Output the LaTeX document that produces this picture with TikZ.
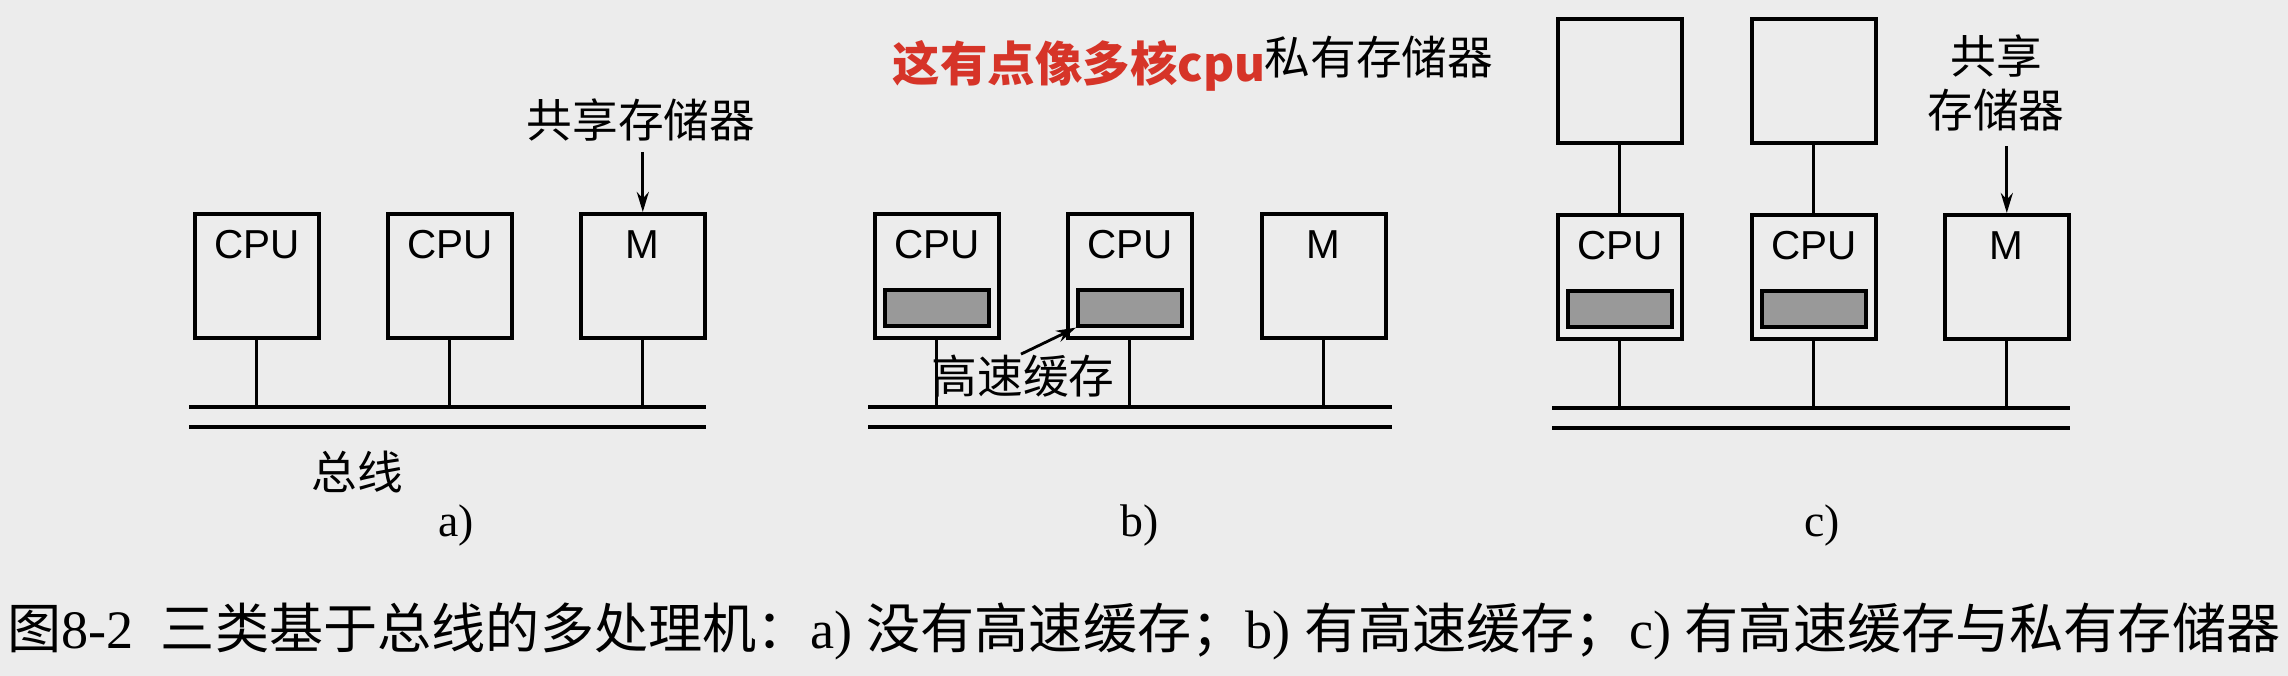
\documentclass[tikz,border=0pt]{standalone}
\usepackage{fontspec}
\setmainfont{Liberation Serif}
\newfontfamily\cjk{Noto Sans CJK SC}
\newfontfamily\lsans{Liberation Sans}
\usetikzlibrary{arrows.meta}
\definecolor{ink}{RGB}{214,52,40}
\definecolor{paper}{RGB}{236,236,236}
\begin{document}
\begin{tikzpicture}[x=0.01cm,y=-0.01cm,
  box/.style={draw,line width=1pt,minimum width=1.24cm,minimum height=1.24cm,inner sep=0,anchor=north west},
  cache/.style={draw,line width=1pt,fill=black!40,minimum width=1.04cm,minimum height=0.36cm,inner sep=0,anchor=south},
  lbl/.style={font=\lsans\fontsize{11.5}{12}\selectfont,inner sep=0},
  zh/.style={font=\cjk\fontsize{13}{15.6}\selectfont,inner sep=0,align=center},
  sub/.style={font=\fontsize{13}{16}\selectfont,inner sep=0},
  link/.style={line width=0.9pt},
  busl/.style={line width=1.3pt},
  arr/.style={-{Stealth[length=0.2cm,width=0.12cm]},line width=0.8pt}
]
\fill[paper] (0,0) rectangle (2288,676);
\useasboundingbox (0,0) rectangle (2288,676);

% ---------- panel a ----------
\node[box] (a1) at (193,212) {};
\node[box] (a2) at (386,212) {};
\node[box] (am) at (579,212) {};
\node[lbl] (a1t) at ([yshift=-0.33cm]a1.north) {CPU};
\node[lbl] (a2t) at ([yshift=-0.33cm]a2.north) {CPU};
\node[lbl] (amt) at ([yshift=-0.33cm]am.north) {M};
\coordinate (abusL) at (189,407);
\coordinate (abusR) at (706,407);
\coordinate (abusL2) at (189,427);
\coordinate (abusR2) at (706,427);
\draw[busl] (abusL) -- (abusR);
\draw[busl] (abusL2) -- (abusR2);
\draw[link] (a1.south) -- (a1.south |- abusL);
\draw[link] (a2.south) -- (a2.south |- abusL);
\draw[link] (am.south) -- (am.south |- abusL);
\node[zh] (ashm) at (641,120) {共享存储器};
\draw[arr] ([yshift=-0.1cm]ashm.south -| am.north) -- (am.north);
\node[zh] (abus) at (357,472) {总线};
\node[sub] (alab) at (456,526) {a)};

% ---------- panel b ----------
\node[box] (b1) at (873,212) {};
\node[box] (b2) at (1066,212) {};
\node[box] (bm) at (1260,212) {};
\node[lbl] (b1t) at ([yshift=-0.33cm]b1.north) {CPU};
\node[lbl] (b2t) at ([yshift=-0.33cm]b2.north) {CPU};
\node[lbl] (bmt) at ([yshift=-0.33cm]bm.north) {M};
\node[cache] (b1c) at ([yshift=0.12cm]b1.south) {};
\node[cache] (b2c) at ([yshift=0.12cm]b2.south) {};
\coordinate (bbusL) at (868,407);
\coordinate (bbusR) at (1392,407);
\coordinate (bbusL2) at (868,427);
\coordinate (bbusR2) at (1392,427);
\draw[busl] (bbusL) -- (bbusR);
\draw[busl] (bbusL2) -- (bbusR2);
\draw[link] (b1.south) -- (b1.south |- bbusL);
\draw[link] (b2.south) -- (b2.south |- bbusL);
\draw[link] (bm.south) -- (bm.south |- bbusL);
\node[zh] (bcache) at (1023,376) {高速缓存};
\draw[arr] ([xshift=-0.02cm]bcache.north) -- (b2c.south west);
\node[sub] (blab) at (1140,526) {b)};
\node[zh] (priv) at (1379,57) {私有存储器};
\node[font=\cjk\bfseries\fontsize{13.5}{16}\selectfont,text=ink,inner sep=0] (note) at (1079,66) {这有点像多核cpu};

% ---------- panel c ----------
\node[box] (cp1) at (1556,17) {};
\node[box] (cp2) at (1750,17) {};
\node[box] (c1) at (1556,213) {};
\node[box] (c2) at (1750,213) {};
\node[box] (cm) at (1943,213) {};
\node[lbl] (c1t) at ([yshift=-0.33cm]c1.north) {CPU};
\node[lbl] (c2t) at ([yshift=-0.33cm]c2.north) {CPU};
\node[lbl] (cmt) at ([yshift=-0.33cm]cm.north) {M};
\node[cache] (c1c) at ([yshift=0.12cm]c1.south) {};
\node[cache] (c2c) at ([yshift=0.12cm]c2.south) {};
\draw[link] (cp1.south) -- (c1.north);
\draw[link] (cp2.south) -- (c2.north);
\coordinate (cbusL) at (1552,408);
\coordinate (cbusR) at (2070,408);
\coordinate (cbusL2) at (1552,428);
\coordinate (cbusR2) at (2070,428);
\draw[busl] (cbusL) -- (cbusR);
\draw[busl] (cbusL2) -- (cbusR2);
\draw[link] (c1.south) -- (c1.south |- cbusL);
\draw[link] (c2.south) -- (c2.south |- cbusL);
\draw[link] (cm.south) -- (cm.south |- cbusL);
\node[zh] (cshm) at (1996,83) {共享\\存储器};
\draw[arr] ([yshift=-0.14cm]cshm.south -| cm.north) -- (cm.north);
\node[sub] (clab) at (1822,526) {c)};

% ---------- caption ----------
\node[font=\fontsize{15.4}{18}\selectfont,inner sep=0] (cap) at (1144,631)
  {{\cjk 图}8-2\enspace{\cjk 三类基于总线的多处理机：}a) {\cjk 没有高速缓存；}b) {\cjk 有高速缓存；}c) {\cjk 有高速缓存与私有存储器}};
\end{tikzpicture}
\end{document}
